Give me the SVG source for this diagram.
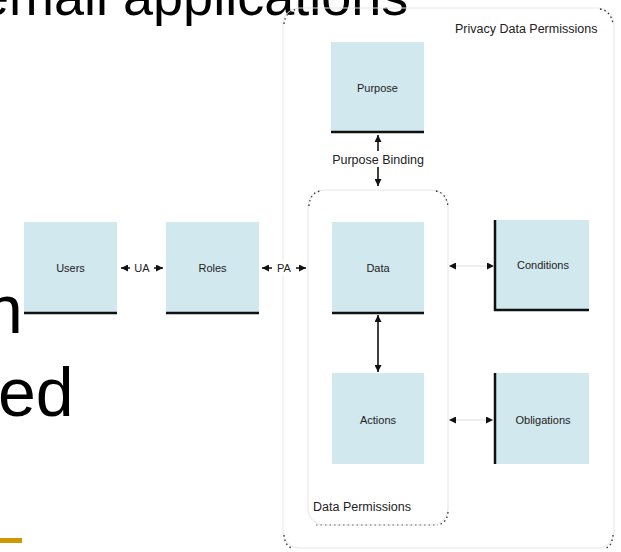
<svg xmlns="http://www.w3.org/2000/svg" width="621" height="552" viewBox="0 0 621 552">
<defs>
<style>
.slide{font-family:"Liberation Sans",Arial,sans-serif;fill:#000}
.box{fill:#d1e8ee}
.lbl{font-family:"Liberation Sans",Arial,sans-serif;font-size:11px;fill:#222;text-anchor:middle}
.cap{font-family:"Liberation Sans",Arial,sans-serif;font-size:12.5px;fill:#222}
.thick{stroke:#111;stroke-width:2.5;fill:none}
.conn{stroke:#111;stroke-width:1.6;fill:none}
.faint{stroke:#e6e6e6;stroke-width:1;fill:none}
.dots{stroke:#333;stroke-width:1.3;fill:none;stroke-dasharray:1.5,3}
</style>
<marker id="ah" viewBox="0 0 10 10" refX="10" refY="5" markerWidth="7" markerHeight="7" markerUnits="userSpaceOnUse" orient="auto-start-reverse">
<path d="M0,0 L10,5 L0,10 z" fill="#111"/>
</marker>
</defs>
<rect width="621" height="552" fill="#fff"/>

<g id="slide-text">
<text class="slide" x="-21" y="15" font-size="54">email applications</text>
<text class="slide" x="-15" y="333" font-size="68">n</text>
<text class="slide" x="-2" y="416" font-size="68">ed</text>
<rect x="0" y="538" width="22" height="5" fill="#cc9900"/>
</g>

<g id="privacy-data-permissions">
<rect x="283" y="8" width="331" height="540" rx="16" class="faint"/>
<path class="dots" d="M284,24 Q285,12 297,9"/>
<path class="dots" d="M600,9 Q611,11 613,24"/>
<path class="dots" d="M284,535 Q285,546 292,548"/>
<path class="dots" d="M613,535 Q612,546 606,548"/>
<text class="cap" x="455" y="33">Privacy Data Permissions</text>
</g>

<g id="data-permissions">
<rect x="308" y="190" width="140" height="335" rx="16" class="faint"/>
<path class="dots" d="M309,206 Q310,193 320,191"/>
<path class="dots" d="M436,191 Q446,193 448,206"/>
<path class="dots" d="M448,512 Q447,523 438,525"/>
<path class="dots" d="M316,525 L438,525" style="stroke:#999"/>
<text class="cap" x="313" y="511">Data Permissions</text>
</g>

<g id="users">
<rect class="box" x="24" y="222" width="93" height="91"/>
<line class="thick" x1="24" y1="313" x2="117" y2="313"/>
<text class="lbl" x="70.5" y="272">Users</text>
</g>

<g id="roles">
<rect class="box" x="166" y="222" width="93" height="91"/>
<line class="thick" x1="166" y1="313" x2="259" y2="313"/>
<text class="lbl" x="212.5" y="272">Roles</text>
</g>

<g id="purpose">
<rect class="box" x="331" y="42" width="93" height="90"/>
<line class="thick" x1="331" y1="132" x2="424" y2="132"/>
<text class="lbl" x="377.5" y="92">Purpose</text>
</g>

<g id="data">
<rect class="box" x="332" y="222" width="92" height="91"/>
<line class="thick" x1="332" y1="313" x2="424" y2="313"/>
<text class="lbl" x="378" y="272">Data</text>
</g>

<g id="conditions">
<rect class="box" x="495" y="220" width="94" height="90"/>
<path class="thick" d="M495,220 L495,310 L589,310"/>
<text class="lbl" x="543" y="269">Conditions</text>
</g>

<g id="actions">
<rect class="box" x="332" y="373" width="92" height="91"/>
<text class="lbl" x="378" y="424">Actions</text>
</g>

<g id="obligations">
<rect class="box" x="495" y="373" width="94" height="91"/>
<line class="thick" x1="495" y1="373" x2="495" y2="464"/>
<text class="lbl" x="543" y="424">Obligations</text>
</g>

<g id="connectors">
<line class="conn" x1="121" y1="268" x2="163" y2="268" marker-start="url(#ah)" marker-end="url(#ah)"/>
<rect x="130" y="260" width="24" height="16" fill="#fff"/>
<text class="lbl" x="142" y="272">UA</text>

<line class="conn" x1="262" y1="268" x2="306" y2="268" marker-start="url(#ah)" marker-end="url(#ah)"/>
<rect x="272" y="260" width="24" height="16" fill="#fff"/>
<text class="lbl" x="284" y="272">PA</text>

<line class="conn" x1="378" y1="135" x2="378" y2="186" marker-start="url(#ah)" marker-end="url(#ah)"/>
<rect x="328" y="151" width="100" height="16" fill="#fff"/>
<text class="cap" x="378" y="164" text-anchor="middle">Purpose Binding</text>

<line class="conn" x1="378" y1="315" x2="378" y2="372" marker-start="url(#ah)" marker-end="url(#ah)"/>

<line x1="449" y1="266" x2="494" y2="266" stroke="#ddd" stroke-width="1" marker-start="url(#ah)" marker-end="url(#ah)"/>
<line x1="449" y1="420" x2="493" y2="420" stroke="#ddd" stroke-width="1" marker-start="url(#ah)" marker-end="url(#ah)"/>
</g>
</svg>
